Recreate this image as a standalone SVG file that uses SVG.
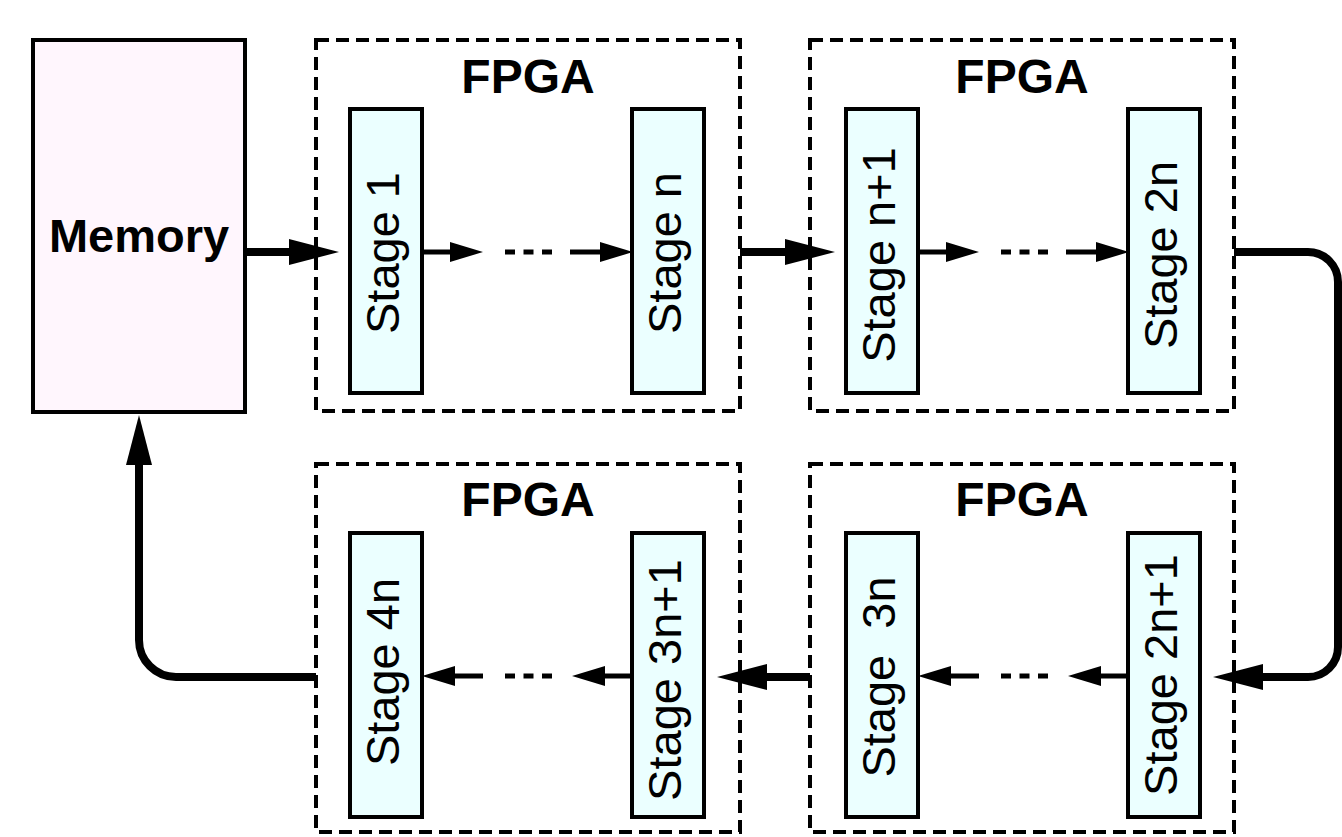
<svg xmlns="http://www.w3.org/2000/svg" width="1342" height="837" viewBox="0 0 1342 837">
<style>
.fpga{fill:none;stroke:#000;stroke-width:4;stroke-dasharray:13 7}
.stage{fill:#ebffff;stroke:#000;stroke-width:4}
.mem{fill:#fff6fd;stroke:#000;stroke-width:4}
.st{font-family:"Liberation Sans",Arial,sans-serif;font-size:47px;fill:#000;text-anchor:middle}
.lbl{font-family:"Liberation Sans",Arial,sans-serif;font-size:48px;font-weight:bold;fill:#000;text-anchor:middle}
.thick{fill:none;stroke:#000;stroke-width:8}
.thin{fill:none;stroke:#000;stroke-width:5}
.dots{fill:none;stroke:#000;stroke-width:5;stroke-dasharray:10 8.5}
</style>
<defs>
<marker id="big" markerUnits="userSpaceOnUse" markerWidth="50" markerHeight="26" refX="0" refY="13" orient="auto" overflow="visible">
<path d="M0,0 L50,13 L0,26 z" fill="#000"/>
</marker>
<marker id="small" markerUnits="userSpaceOnUse" markerWidth="33" markerHeight="20" refX="0" refY="10" orient="auto" overflow="visible">
<path d="M0,0 L33,10 L0,20 z" fill="#000"/>
</marker>
</defs>
<rect width="1342" height="837" fill="#fff"/>

<g id="memory">
<rect class="mem" x="33" y="40" width="212" height="372"/>
<text class="lbl" x="139" y="252" style="font-size:47px">Memory</text>
</g>

<g id="fpga1">
<rect class="fpga" x="316" y="40" width="424" height="371"/>
<text class="lbl" x="528" y="93">FPGA</text>
</g>
<g id="fpga2">
<rect class="fpga" x="810" y="40" width="424" height="371"/>
<text class="lbl" x="1022" y="93">FPGA</text>
</g>
<g id="fpga3">
<rect class="fpga" x="316" y="464" width="424" height="368"/>
<text class="lbl" x="528" y="516">FPGA</text>
</g>
<g id="fpga4">
<rect class="fpga" x="810" y="464" width="424" height="368"/>
<text class="lbl" x="1022" y="516">FPGA</text>
</g>

<g id="stage1">
<rect class="stage" x="350" y="109" width="72" height="284"/>
<text class="st" transform="translate(399,253) rotate(-90)">Stage 1</text>
</g>
<g id="stagen">
<rect class="stage" x="632" y="109" width="72" height="284"/>
<text class="st" transform="translate(681,253) rotate(-90)">Stage n</text>
</g>
<g id="stagen1">
<rect class="stage" x="846" y="109" width="72" height="284"/>
<text class="st" transform="translate(895,255) rotate(-90)">Stage n+1</text>
</g>
<g id="stage2n">
<rect class="stage" x="1128" y="109" width="72" height="284"/>
<text class="st" transform="translate(1177,255) rotate(-90)">Stage 2n</text>
</g>
<g id="stage4n">
<rect class="stage" x="350" y="533" width="72" height="284"/>
<text class="st" transform="translate(399,672) rotate(-90)">Stage 4n</text>
</g>
<g id="stage3n1">
<rect class="stage" x="632" y="533" width="72" height="284"/>
<text class="st" transform="translate(681,680) rotate(-90)">Stage 3n+1</text>
</g>
<g id="stage3n">
<rect class="stage" x="846" y="533" width="72" height="284"/>
<text class="st" xml:space="preserve" transform="translate(895,677) rotate(-90)">Stage  3n</text>
</g>
<g id="stage2n1">
<rect class="stage" x="1128" y="533" width="72" height="284"/>
<text class="st" transform="translate(1177,675) rotate(-90)">Stage 2n+1</text>
</g>

<g id="connectors">
<path class="thick" d="M245,252 H289" marker-end="url(#big)"/>
<path class="thick" d="M740,252 H785" marker-end="url(#big)"/>
<path class="thick" d="M1234,252 H1308 A30,30 0 0 1 1338,282 V647 A30,30 0 0 1 1308,677 H1263" marker-end="url(#big)"/>
<path class="thick" d="M810,677 H767" marker-end="url(#big)"/>
<path class="thick" d="M316,677 H176 A37,37 0 0 1 139,640 V465" marker-end="url(#big)"/>

<path class="thin" d="M422,252 H450" marker-end="url(#small)"/>
<path class="dots" d="M505,252 H552"/>
<path class="thin" d="M570,252 H600" marker-end="url(#small)"/>

<path class="thin" d="M918,252 H946" marker-end="url(#small)"/>
<path class="dots" d="M1001,252 H1048"/>
<path class="thin" d="M1066,252 H1096" marker-end="url(#small)"/>

<path class="thin" d="M1128,676 H1101" marker-end="url(#small)"/>
<path class="dots" d="M1001,676 H1048"/>
<path class="thin" d="M979,676 H951" marker-end="url(#small)"/>

<path class="thin" d="M632,676 H605" marker-end="url(#small)"/>
<path class="dots" d="M505,676 H552"/>
<path class="thin" d="M483,676 H455" marker-end="url(#small)"/>
</g>
</svg>
